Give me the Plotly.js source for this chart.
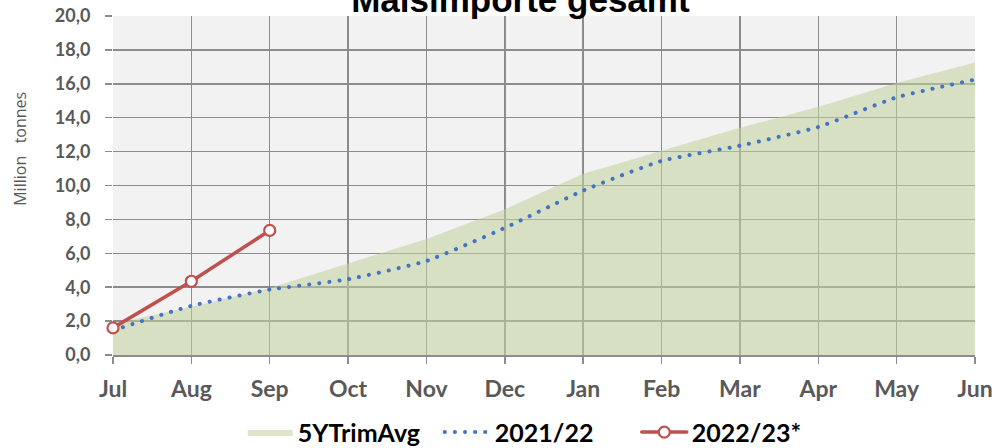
<!DOCTYPE html>
<html>
<head>
<meta charset="utf-8">
<script src="https://cdn.plot.ly/plotly-3.0.1.min.js"></script>
<style>
html,body{margin:0;padding:0;background:#fff;}
#chart{width:995px;height:448px;}
path.js-line{stroke-linecap:round;}
</style>
</head>
<body>
<div id="chart"></div>
<script>
const months = ['Jul','Aug','Sep','Oct','Nov','Dec','Jan','Feb','Mar','Apr','May','Jun'];
const avg5Y = [1.85, 2.85, 3.95, 5.4, 6.85, 8.6, 10.7, 12.05, 13.4, 14.65, 16.05, 17.25];
const season2122 = [1.45, 2.9, 3.86, 4.47, 5.55, 7.5, 9.7, 11.45, 12.35, 13.45, 15.2, 16.25];
const season2223 = [1.6, 4.35, 7.35];
const yTicks = [0,2,4,6,8,10,12,14,16,18,20];

const traces = [
  {
    x: months, y: avg5Y, name: '5YTrimAvg', type: 'scatter', mode: 'lines',
    fill: 'tozeroy', fillcolor: 'rgba(197,210,160,0.56)',
    line: {width: 0, color: 'rgba(197,210,160,0.56)'}, hoverinfo: 'skip'
  },
  {
    x: months, y: season2122, name: '2021/22', type: 'scatter', mode: 'lines',
    line: {color: '#4472c4', width: 4, dash: '0.1px,10px', shape: 'spline', smoothing: 0.5}
  },
  {
    x: months.slice(0, season2223.length), y: season2223, name: '2022/23*', type: 'scatter', mode: 'lines+markers',
    cliponaxis: false,
    line: {color: '#c0504d', width: 3.5},
    marker: {symbol: 'circle', size: 11, color: '#ffffff', line: {color: '#c0504d', width: 2.2}}
  }
];

const yTickFont = {family: 'Lato, sans-serif', size: 18, color: '#595959', weight: 'bold'};
const xTickFont = {family: 'Lato, sans-serif', size: 23, color: '#595959', weight: 'bold'};

const layout = {
  width: 995, height: 448,
  margin: {l: 113, r: 20, t: 16, b: 93, pad: 0},
  paper_bgcolor: '#ffffff',
  plot_bgcolor: '#f2f2f2',
  separators: ',.',
  showlegend: true,
  title: {
    text: 'Maisimporte gesamt',
    font: {family: 'Liberation Sans, Arial, sans-serif', size: 35, color: '#000000', weight: 'bold'},
    xref: 'container', x: 0.523, xanchor: 'center',
    yref: 'container', y: 1, yanchor: 'middle'
  },
  xaxis: {
    type: 'category', range: [0, 11],
    showgrid: true, gridcolor: '#8c8c8c', gridwidth: 1.5,
    showline: true, linecolor: '#8c8c8c', linewidth: 1.5,
    ticks: 'outside', ticklen: 7, tickcolor: '#8c8c8c', tickwidth: 1.5,
    tickfont: xTickFont, ticklabelstandoff: 6,
    zeroline: false, fixedrange: true
  },
  yaxis: {
    range: [0, 20], tickvals: yTicks, tickformat: '.1f',
    showgrid: true, gridcolor: '#8c8c8c', gridwidth: 1.5,
    showline: false, zeroline: false,
    ticks: 'outside', ticklen: 7, tickcolor: '#8c8c8c', tickwidth: 1.5,
    tickfont: yTickFont, ticklabelstandoff: 11, fixedrange: true
  },
  legend: {
    orientation: 'h', x: 0.244, xanchor: 'left', xref: 'container',
    y: 0.035, yanchor: 'middle', yref: 'container',
    font: {family: 'Lato, sans-serif', size: 25, color: '#000000', weight: 'bold'},
    itemwidth: 45, entrywidth: 137, entrywidthmode: 'pixels',
    bgcolor: 'rgba(0,0,0,0)', tracegroupgap: 0
  },
  annotations: [{
    text: 'Million\u00a0\u00a0\u00a0tonnes', textangle: -90,
    xref: 'paper', yref: 'paper', x: -0.108, y: 0.608,
    xanchor: 'center', yanchor: 'middle', showarrow: false,
    font: {family: 'Open Sans, sans-serif', size: 16, color: '#595959'}
  }]
};

Plotly.newPlot('chart', traces, layout, {displayModeBar: false, staticPlot: true});
</script>
</body>
</html>
